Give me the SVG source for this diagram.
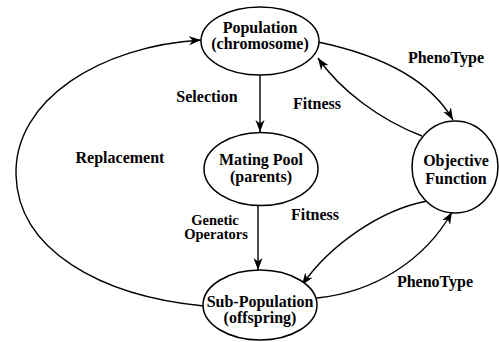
<svg xmlns="http://www.w3.org/2000/svg" width="499" height="342" viewBox="0 0 499 342">
<defs>
<marker id="arr" markerWidth="14" markerHeight="10" refX="12" refY="5" orient="auto" markerUnits="userSpaceOnUse">
<path d="M0,0.5 L12,5 L0,9.5 L3.5,5 z" fill="#000"/>
</marker>
<style>
.node{fill:#fff;stroke:#000;stroke-width:1.5}
.edge{fill:none;stroke:#000;stroke-width:1.4}
.s{font-size:14.5px}
.c{text-anchor:middle}
</style>
</defs>
<rect width="499" height="342" fill="#fff"/>
<g id="connectors">
<path class="edge" d="M260,75 L260,132" marker-end="url(#arr)"/>
<path class="edge" d="M258,206 L258,270" marker-end="url(#arr)"/>
<path class="edge" d="M204,306 C100,296 18,250 16,175 C14,100 100,46 201,40" marker-end="url(#arr)"/>
<path class="edge" d="M318,42 C380,55 430,80 453,120" marker-end="url(#arr)"/>
<path class="edge" d="M422,136 C380,120 340,90 318,58" marker-end="url(#arr)"/>
<path class="edge" d="M427,201 C380,210 330,245 302,285" marker-end="url(#arr)"/>
<path class="edge" d="M317,298 C375,292 425,260 452,212" marker-end="url(#arr)"/>
</g>
<g font-family="Liberation Serif, serif" font-weight="bold" font-size="16" fill="#000">
<g id="population">
<ellipse class="node" cx="260" cy="41" rx="59" ry="34"/>
<text class="c" x="260" y="33">Population</text>
<text class="c" x="260" y="49">(chromosome)</text>
</g>
<g id="mating-pool">
<ellipse class="node" cx="261" cy="169" rx="57" ry="36.5"/>
<text class="c" x="261" y="165">Mating Pool</text>
<text class="c" x="261" y="182">(parents)</text>
</g>
<g id="sub-population">
<ellipse class="node" cx="260" cy="305" rx="57" ry="35"/>
<text class="c" x="260" y="307">Sub-Population</text>
<text class="c" x="260" y="323">(offspring)</text>
</g>
<g id="objective-function">
<ellipse class="node" cx="455" cy="167" rx="43" ry="46"/>
<text class="c" x="456" y="166">Objective</text>
<text class="c" x="456" y="184">Function</text>
</g>
<g id="labels">
<text class="c" x="207" y="102">Selection</text>
<text class="c" x="120" y="163">Replacement</text>
<text class="c s" x="215" y="225">Genetic</text>
<text class="c s" x="216" y="239">Operators</text>
<text class="c" x="446" y="63">PhenoType</text>
<text class="c" x="317" y="109">Fitness</text>
<text class="c" x="315" y="220">Fitness</text>
<text class="c" x="435" y="287">PhenoType</text>
</g>
</g>
</svg>
